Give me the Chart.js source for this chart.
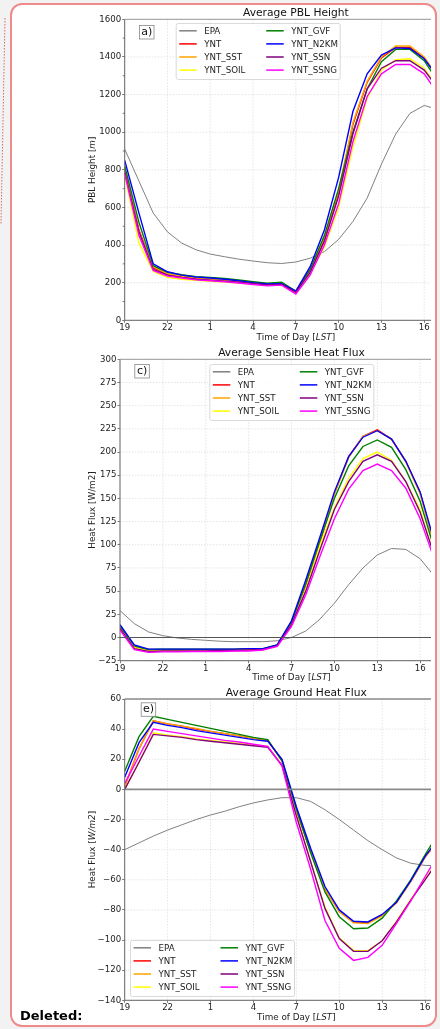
<!DOCTYPE html>
<html>
<head>
<meta charset="utf-8">
<script src="https://cdn.jsdelivr.net/npm/chart.js@4.4.0/dist/chart.umd.min.js"></script>
<style>
html, body { margin: 0; padding: 0; }
body { width: 440px; height: 1029px; background: #f2f2f2; position: relative; overflow: hidden; font-family: "DejaVu Sans", sans-serif; }
#frame { position: absolute; left: 10px; top: 3px; width: 423px; height: 1020px; border: 2px solid #ee8a8a; border-radius: 12px; background: #fff; }
#clip { position: absolute; left: 0; top: 0; width: 431px; height: 1029px; overflow: hidden; }
#clip canvas { position: absolute; left: 20px; }
#deleted { position: absolute; left: 20px; top: 1008px; font-weight: bold; font-size: 13px; color: #000; }
</style>
</head>
<body>
<svg style="position:absolute;left:0;top:0" width="10" height="240">
  <line x1="5" y1="18" x2="1" y2="224" stroke="#d86a6a" stroke-width="1" stroke-dasharray="1.5,1.5"/>
</svg>
<div id="frame"></div>
<div id="clip">
  <canvas id="pbl" width="460" height="342" style="top:3px"></canvas>
  <canvas id="shf" width="460" height="340" style="top:345px"></canvas>
  <canvas id="ghf" width="460" height="340" style="top:685px"></canvas>
</div>
<div id="deleted">Deleted:</div>
<script>
// hour index 0 = 19 LST
const hourIndex = [0, 1, 2, 3, 4, 5, 6, 7, 8, 9, 10, 11, 12, 13, 14, 15, 16, 17, 18, 19, 20, 21, 22];
const seriesNames = ["EPA", "YNT", "YNT_SST", "YNT_SOIL", "YNT_GVF", "YNT_N2KM", "YNT_SSN", "YNT_SSNG"];
const seriesColors = ["#808080", "#ff0000", "#ffa500", "#ffff00", "#008000", "#0000ff", "#800080", "#ff00ff"];

// a) PBL height [m]
const pblEPA  = [910, 740, 570, 470, 410, 375, 352, 338, 325, 315, 306, 302, 310, 330, 365, 430, 525, 650, 830, 990, 1100, 1142, 1120];
const pblYNT  = [800, 480, 280, 245, 232, 222, 217, 212, 205, 197, 190, 192, 150, 260, 430, 680, 1040, 1265, 1395, 1450, 1450, 1395, 1285];
const pblSST  = [810, 470, 285, 247, 234, 224, 218, 213, 206, 198, 191, 193, 152, 265, 440, 690, 1050, 1270, 1400, 1458, 1458, 1400, 1290];
const pblSOIL = [770, 410, 260, 228, 218, 212, 207, 203, 198, 193, 186, 188, 145, 245, 390, 600, 920, 1180, 1330, 1385, 1390, 1340, 1230];
const pblGVF  = [820, 520, 290, 255, 242, 232, 228, 222, 214, 205, 197, 202, 155, 270, 450, 700, 1000, 1230, 1375, 1440, 1440, 1380, 1265];
const pblN2KM = [850, 570, 300, 258, 240, 230, 225, 218, 210, 200, 193, 195, 155, 285, 480, 760, 1110, 1310, 1410, 1448, 1445, 1390, 1290];
const pblSSN  = [790, 470, 270, 240, 228, 218, 213, 208, 202, 195, 188, 190, 148, 255, 420, 660, 990, 1230, 1340, 1380, 1380, 1330, 1230];
const pblSSNG = [780, 450, 265, 235, 225, 215, 210, 205, 198, 190, 183, 187, 140, 240, 400, 620, 950, 1190, 1310, 1360, 1360, 1310, 1200];

// c) sensible heat flux [W/m2]
const shfEPA  = [29, 15, 6, 2, -0.5, -2, -3, -4, -4.5, -4.5, -4.5, -3.5, 0, 7, 20, 37, 57, 75, 89, 96, 95, 85, 66];
const shfYNT  = [12, -10, -14, -13.5, -13.5, -13.5, -13.5, -13.5, -13.5, -13, -12.5, -8.5, 16, 56, 103, 155, 195, 217, 224, 214, 190, 156, 100];
const shfSST  = [12, -10, -14, -13.5, -13.5, -13.5, -13.5, -13.5, -13.5, -13, -12.5, -8.5, 16, 57, 104, 155, 194, 217, 223, 214, 189, 155, 100];
const shfSOIL = [10, -11, -14.5, -14, -14, -14, -14, -14, -14, -13.5, -13, -9, 13, 52, 100, 140, 172, 193, 200, 191, 168, 138, 88];
const shfGVF  = [13, -9, -13, -12.5, -12.5, -12.5, -12.5, -12.5, -12.5, -12, -12, -8, 17, 58, 105, 150, 185, 206, 213, 205, 181, 147, 95];
const shfN2KM = [14, -8, -12.5, -12.5, -12.5, -12.5, -12.5, -12.5, -12.5, -12, -12, -8, 18, 62, 109, 157, 195, 216, 223, 214, 190, 157, 103];
const shfSSN  = [10, -12, -15, -14.5, -14.5, -14.5, -14.5, -14, -14, -13.5, -13, -9, 14, 50, 95, 138, 168, 190, 197, 190, 168, 135, 88];
const shfSSNG = [8, -13, -16, -15.5, -15.5, -15, -15, -15, -14.5, -14.5, -13.5, -9.5, 12, 46, 88, 128, 160, 180, 187, 180, 161, 128, 84];

// e) ground heat flux [W/m2]
const ghfEPA  = [-40, -35.5, -31, -27, -23.5, -20, -17, -14.5, -11.5, -9, -7, -5.5, -5.5, -8, -13.5, -20, -27, -34, -40, -45.5, -49, -50.5, -50.5];
const ghfYNT  = [2, 27, 45.5, 43.5, 42, 40, 38.5, 37, 35.5, 34, 32.5, 19, -14, -41, -66, -81, -88, -88.5, -83.5, -75, -61, -45, -33];
const ghfSST  = [2, 27, 45.5, 43.5, 42, 40.5, 38.5, 37, 35.5, 34, 32.5, 19, -14, -41, -66, -81, -88.5, -89, -84, -75.5, -61, -45, -33];
const ghfSOIL = [0, 18, 37.5, 36, 35, 33.5, 32.5, 31.5, 30.5, 29.5, 28.5, 16, -17, -48, -78, -98.5, -107, -107, -100.5, -87.5, -73, -59.5, -46];
const ghfGVF  = [12, 35, 48.5, 46.5, 44.5, 42.5, 40.5, 38.5, 36.5, 34.5, 33, 19, -13, -42, -68, -84.5, -92.5, -92, -85.5, -74, -60, -43.5, -28];
const ghfN2KM = [8, 31, 44.5, 42.5, 41, 39, 37.5, 36, 34.5, 33, 32, 20, -11.5, -39, -64.5, -80, -87.5, -88, -83, -75, -60.5, -44.5, -32];
const ghfSSN  = [0, 18, 36.5, 35.5, 34.5, 33, 32, 31, 30, 29, 28, 16, -17.5, -48, -79, -99, -107.5, -107.5, -100.5, -88, -73.5, -60, -46.5];
const ghfSSNG = [4, 22, 40, 38.5, 37, 35.5, 34, 32.5, 31.5, 30, 28.5, 15.5, -22, -53, -87, -105.5, -113.5, -111.5, -103.5, -89, -74, -58, -42];

const FONT = '"DejaVu Sans"';
Chart.defaults.font.family = FONT;
Chart.defaults.color = "#222";

function makeDatasets(list) {
    return list.map((vals, i) => ({
        label: seriesNames[i],
        data: vals.map((v, k) => ({ x: hourIndex[k], y: v })),
        borderColor: seriesColors[i],
        backgroundColor: seriesColors[i],
        borderWidth: i === 0 ? 1 : 1.4,
        pointRadius: 0,
        tension: 0,
        fill: false,
        order: 8 - i, // later series on top, like matplotlib
    }));
}

// draw text made of [text, italic] parts, centred on (x, y)
function drawParts(ctx, parts, x, y, size) {
    let total = 0;
    parts.forEach(([t, it]) => {
        ctx.font = (it ? "italic " : "") + size + "px " + FONT;
        total += ctx.measureText(t).width;
    });
    let cx = x - total / 2;
    ctx.textAlign = "left";
    ctx.textBaseline = "middle";
    parts.forEach(([t, it]) => {
        ctx.font = (it ? "italic " : "") + size + "px " + FONT;
        ctx.fillText(t, cx, y);
        cx += ctx.measureText(t).width;
    });
}

function makeDecor(cfg) {
    return {
        id: "decor",
        beforeDatasetsDraw(chart) {
            const { ctx, chartArea: a, scales } = chart;
            ctx.save();
            ctx.strokeStyle = "#dedede";
            ctx.lineWidth = 0.8;
            ctx.setLineDash([1.5, 1.5]);
            ctx.beginPath();
            scales.y.ticks.forEach((t) => {
                const py = scales.y.getPixelForValue(t.value);
                ctx.moveTo(a.left, py);
                ctx.lineTo(a.right, py);
            });
            scales.x.ticks.forEach((t) => {
                const px = scales.x.getPixelForValue(t.value);
                ctx.moveTo(px, a.top);
                ctx.lineTo(px, a.bottom);
            });
            ctx.stroke();
            ctx.restore();
        },
        afterDatasetsDraw(chart) {
            const { ctx, chartArea: a, scales } = chart;
            ctx.save();

            if (cfg.zeroLine) {
                const py = scales.y.getPixelForValue(0);
                ctx.strokeStyle = cfg.zeroLine.color;
                ctx.lineWidth = cfg.zeroLine.width;
                ctx.beginPath();
                ctx.moveTo(a.left, py);
                ctx.lineTo(a.right, py);
                ctx.stroke();
            }

            // spines
            ctx.strokeStyle = "#666";
            ctx.lineWidth = 1;
            ctx.beginPath();
            ctx.moveTo(a.left, a.top);
            ctx.lineTo(a.left, a.bottom);
            ctx.lineTo(a.right, a.bottom);
            ctx.stroke();
            ctx.strokeStyle = cfg.topColor || "#999";
            ctx.lineWidth = cfg.topWidth || 1;
            ctx.beginPath();
            ctx.moveTo(a.left, a.top);
            ctx.lineTo(a.right, a.top);
            ctx.stroke();

            if (cfg.minorStep) {
                ctx.strokeStyle = "#555";
                ctx.lineWidth = 0.8;
                ctx.beginPath();
                for (let v = scales.y.min + cfg.minorStep; v < scales.y.max; v += 2 * cfg.minorStep) {
                    const py = scales.y.getPixelForValue(v);
                    ctx.moveTo(a.left - 2, py);
                    ctx.lineTo(a.left, py);
                }
                ctx.stroke();
            }

            // panel label
            const bx = a.left + cfg.panelPos[0], by = a.top + cfg.panelPos[1];
            ctx.fillStyle = "#fff";
            ctx.fillRect(bx, by, 15, 14);
            ctx.strokeStyle = "#888";
            ctx.lineWidth = 0.8;
            ctx.strokeRect(bx + 0.5, by + 0.5, 14.5, 13.5);
            ctx.fillStyle = "#111";
            ctx.font = "11px " + FONT;
            ctx.textAlign = "center";
            ctx.textBaseline = "middle";
            ctx.fillText(cfg.panel, bx + 7.8, by + 7.3);

            // legend
            const lw = 164, lh = 56;
            const lx = a.left + cfg.legend.x;
            const ly = cfg.legend.y != null ? a.top + cfg.legend.y : a.bottom - cfg.legend.bottom - lh;
            ctx.fillStyle = "rgba(255,255,255,0.85)";
            ctx.strokeStyle = "#d0d0d0";
            ctx.lineWidth = 0.8;
            ctx.beginPath();
            ctx.roundRect(lx + 0.5, ly + 0.5, lw, lh, 2);
            ctx.fill();
            ctx.stroke();
            ctx.font = "8.7px " + FONT;
            ctx.textAlign = "left";
            ctx.textBaseline = "middle";
            chart.data.datasets.forEach((ds, i) => {
                const col = i < 4 ? 0 : 1, row = i % 4;
                const ox = lx + col * 87, oy = ly + 7.8 + row * 13.1;
                ctx.strokeStyle = ds.borderColor;
                ctx.lineWidth = 1.5;
                ctx.beginPath();
                ctx.moveTo(ox + 3.5, oy);
                ctx.lineTo(ox + 21, oy);
                ctx.stroke();
                ctx.fillStyle = "#222";
                ctx.fillText(ds.label, ox + 28.5, oy + 0.5);
            });

            // titles
            ctx.fillStyle = "#111";
            ctx.font = "10.7px " + FONT;
            ctx.textAlign = "center";
            ctx.textBaseline = "alphabetic";
            ctx.fillText(cfg.title, (a.left + a.right) / 2, a.top - 3.5);

            ctx.fillStyle = "#222";
            drawParts(ctx, [["Time of Day [", false], ["LST", true], ["]", false]], (a.left + a.right) / 2, a.bottom + 17, 8.8);

            ctx.translate(73, (a.top + a.bottom) / 2);
            ctx.rotate(-Math.PI / 2);
            drawParts(ctx, cfg.yTitle, 0, 0, 8.8);
            ctx.restore();
        },
    };
}

function makeChart(id, list, yMin, yMax, yStep, yWidth, pad, cfg) {
    new Chart(document.getElementById(id), {
        type: "line",
        data: { datasets: makeDatasets(list) },
        options: {
            responsive: false,
            animation: false,
            devicePixelRatio: 1,
            layout: { padding: pad },
            plugins: { legend: { display: false }, title: { display: false }, tooltip: { enabled: false } },
            scales: {
                x: {
                    type: "linear",
                    min: 0,
                    max: 24,
                    border: { display: false },
                    grid: { drawOnChartArea: false, tickLength: 2.5, tickColor: "#555", tickWidth: 0.8 },
                    ticks: {
                        stepSize: 3,
                        padding: 0,
                        maxRotation: 0,
                        font: { size: 8.6 },
                        color: "#222",
                        callback: (v) => String((19 + v) % 24),
                    },
                    afterFit: (s) => {
                        s.height = 20;
                        s.paddingLeft = 0;
                        s.paddingRight = 0;
                    },
                },
                y: {
                    min: yMin,
                    max: yMax,
                    border: { display: false },
                    grid: { drawOnChartArea: false, tickLength: 2.5, tickColor: "#555", tickWidth: 0.8 },
                    ticks: {
                        stepSize: yStep,
                        padding: 1,
                        font: { size: 8.6 },
                        color: "#222",
                        callback: (v) => String(v).replace("-", "\u2212"),
                    },
                    afterFit: (s) => {
                        s.width = yWidth;
                        s.paddingTop = 0;
                        s.paddingBottom = 0;
                    },
                },
            },
        },
        plugins: [makeDecor(cfg)],
    });
}

makeChart("pbl", [pblEPA, pblYNT, pblSST, pblSOIL, pblGVF, pblN2KM, pblSSN, pblSSNG],
    0, 1600, 200, 104.7, { top: 16.3, bottom: 4.7, left: 0, right: 13 },
    {
        title: "Average PBL Height",
        yTitle: [["PBL Height [", false], ["m", true], ["]", false]],
        panel: "a)", panelPos: [14.3, 5.7],
        legend: { x: 51, y: 3.7 },
        minorStep: 100,
    });

makeChart("shf", [shfEPA, shfYNT, shfSST, shfSOIL, shfGVF, shfN2KM, shfSSN, shfSSNG],
    -25, 300, 25, 100, { top: 14.3, bottom: 4.3, left: 0, right: 17 },
    {
        title: "Average Sensible Heat Flux",
        yTitle: [["Heat Flux [W/m2]", false]],
        panel: "c)", panelPos: [14.3, 4.7],
        legend: { x: 89.3, y: 4.7 },
        zeroLine: { color: "#555", width: 1 },
    });

makeChart("ghf", [ghfEPA, ghfYNT, ghfSST, ghfSOIL, ghfGVF, ghfN2KM, ghfSSN, ghfSSNG],
    -140, 60, 20, 104.7, { top: 14, bottom: 4.7, left: 0, right: 12 },
    {
        title: "Average Ground Heat Flux",
        yTitle: [["Heat Flux [", false], ["W/m2", true], ["]", false]],
        panel: "e)", panelPos: [16, 3.3],
        legend: { x: 5.3, bottom: 4.3 },
        zeroLine: { color: "#8a8a8a", width: 1.6 },
        topColor: "#8a8a8a", topWidth: 1.6,
    });
</script>
</body>
</html>
